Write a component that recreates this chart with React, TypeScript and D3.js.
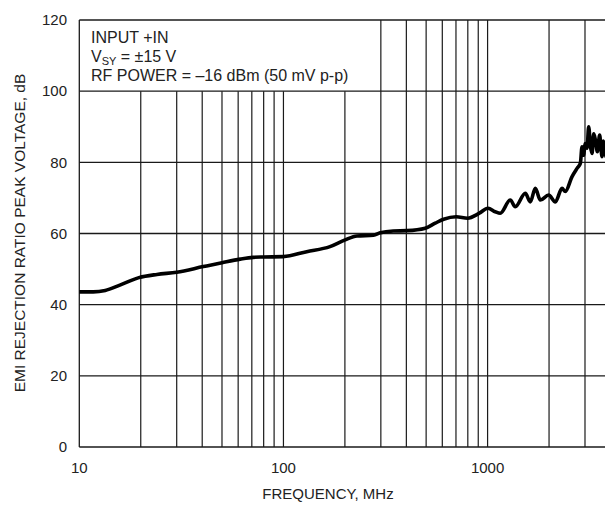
import React from "react";
import * as d3 from "d3";

// EMI rejection ratio vs frequency
const freqMHz = [
  10, 11.7, 13.4, 15.8, 19.6, 24, 30, 40.5, 50, 61.4, 70.9, 80, 99.7, 130, 169,
  200.6, 229, 276, 298, 345, 403, 495, 554, 609, 702, 798, 911, 1005, 1091,
  1154, 1292, 1367, 1530, 1619, 1713, 1813, 1991, 2147, 2315, 2403, 2593, 2743,
  2847, 2901, 2950, 3012, 3070, 3127, 3190, 3249, 3310, 3373, 3450, 3540, 3590,
  3638, 3690, 3733, 3800, 3906,
];
const rejectionDb = [
  43.6, 43.6, 44.0, 45.5, 47.6, 48.5, 49.1, 50.7, 51.8, 52.8, 53.3, 53.4, 53.5,
  54.9, 56.3, 58.2, 59.3, 59.5, 60.2, 60.7, 60.8, 61.5, 62.9, 64.0, 64.7, 64.3,
  65.7, 67.1, 66.1, 65.7, 69.4, 67.5, 71.3, 68.9, 72.7, 69.4, 70.8, 68.9, 72.7,
  71.8, 76.0, 78.3, 79.7, 84.4, 82.0, 85.3, 84.0, 90.0, 84.5, 82.5, 88.0, 86.3,
  83.0, 87.7, 84.0, 81.6, 86.0, 84.4, 81.5, 82.0,
];

const yTicks = [0, 20, 40, 60, 80, 100, 120];
const xTickLabels = [10, 100, 1000];
const xGrid = [
  20, 30, 40, 50, 60, 70, 80, 90, 100, 200, 300, 400, 500, 600, 700, 800, 900,
  1000, 2000, 3000,
];

const notes = ["INPUT +IN", "RF POWER = \u201316 dBm (50 mV p-p)"];

const App = () => {
  const width = 605;
  const height = 505;
  const font = "'Liberation Sans', Arial, sans-serif";

  const x = d3.scaleLog().domain([10, 4000]).range([79.3, 610.5]);
  const y = d3.scaleLinear().domain([0, 120]).range([447, 20]);

  const pts = freqMHz.map((f, i) => [f, rejectionDb[i]] as [number, number]);
  const line = d3
    .line<[number, number]>()
    .x((d) => x(d[0]))
    .y((d) => y(d[1]))
    .curve(d3.curveMonotoneX);

  const gridColor = "#1a1a1a";

  return (
    <div style={{ position: "fixed", left: 0, top: 0, width, height, overflow: "hidden" }}>
      <svg width={width} height={height} style={{ display: "block", background: "#fff" }}>
        {/* horizontal grid */}
        {yTicks.map((t) => (
          <line
            key={"h" + t}
            x1={x(10)}
            x2={width}
            y1={y(t)}
            y2={y(t)}
            stroke={gridColor}
            strokeWidth={1.3}
          />
        ))}
        {/* vertical grid; below 300 MHz they stop under the note box */}
        {xGrid.map((f) => (
          <line
            key={"v" + f}
            x1={x(f)}
            x2={x(f)}
            y1={y(f >= 300 ? 120 : 100)}
            y2={y(0)}
            stroke={gridColor}
            strokeWidth={1.2}
          />
        ))}
        <line x1={x(10)} x2={x(10)} y1={y(120)} y2={y(0)} stroke={gridColor} strokeWidth={1.3} />

        <path d={line(pts) || ""} fill="none" stroke="#000" strokeWidth={3.6} strokeLinejoin="round" />

        {/* axis labels */}
        {yTicks.map((t) => (
          <text
            key={"yl" + t}
            x={67}
            y={y(t)}
            dy="0.35em"
            textAnchor="end"
            fontFamily={font}
            fontSize={15}
            fill="#222"
          >
            {t}
          </text>
        ))}
        {xTickLabels.map((t) => (
          <text
            key={"xl" + t}
            x={x(t)}
            y={473}
            textAnchor="middle"
            fontFamily={font}
            fontSize={15}
            fill="#222"
          >
            {t}
          </text>
        ))}
        <text x={328} y={499} textAnchor="middle" fontFamily={font} fontSize={15} fill="#222">
          FREQUENCY, MHz
        </text>
        <text
          transform="translate(24.5,233) rotate(-90)"
          textAnchor="middle"
          fontFamily={font}
          fontSize={15.5}
          fill="#222"
        >
          EMI REJECTION RATIO PEAK VOLTAGE, dB
        </text>

        {/* note box text */}
        <g fontFamily={font} fontSize={16} fill="#222">
          <text x={91} y={43}>{notes[0]}</text>
          <text x={91} y={62}>
            V<tspan fontSize={11} dy={3}>SY</tspan>
            <tspan dy={-3}> = ±15 V</tspan>
          </text>
          <text x={91} y={81}>{notes[1]}</text>
        </g>
      </svg>
    </div>
  );
};

export default App;
